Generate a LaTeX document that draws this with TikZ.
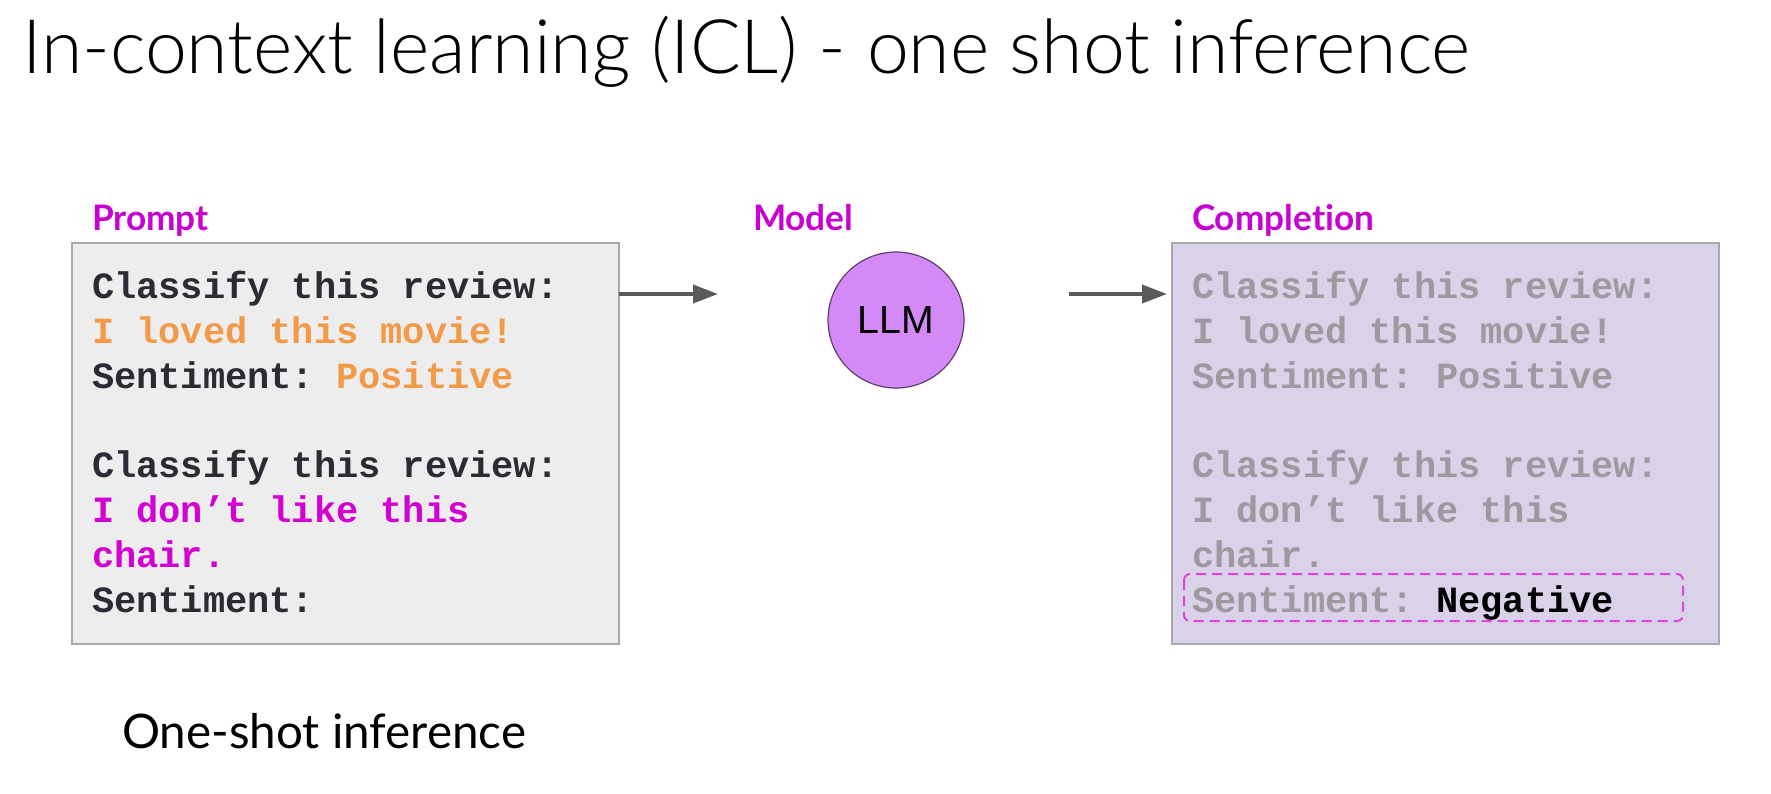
\documentclass[tikz,border=0pt]{standalone}
\usepackage{fontspec}
\setmainfont{Lato}[Ligatures={TeX,NoCommon}]
\IfFontExistsTF{Lato Light}{\newfontfamily\titlefont{Lato Light}[Ligatures={TeX,NoCommon}]}{\newfontfamily\titlefont{Lato}[Ligatures={TeX,NoCommon}]}
\setsansfont{Liberation Sans}
\setmonofont{Liberation Mono}
\usetikzlibrary{arrows.meta}
\definecolor{labmag}{HTML}{C800D2}
\definecolor{txtdark}{HTML}{2A2B33}
\definecolor{txtorange}{HTML}{F29A48}
\definecolor{txtmag}{HTML}{D200D2}
\definecolor{txtgray}{HTML}{9C9A9E}
\definecolor{promptfill}{HTML}{EDEDED}
\definecolor{complfill}{HTML}{D9D2E9}
\definecolor{boxline}{HTML}{A8A8A8}
\definecolor{arrgray}{HTML}{5A5A5A}
\definecolor{llmfill}{HTML}{D38AF7}
\definecolor{llmline}{HTML}{5E3F70}
\definecolor{dashmag}{HTML}{DD44DD}
\begin{document}
\begin{tikzpicture}[x=0.5pt,y=-0.5pt,
  every node/.style={inner sep=0pt, outer sep=0pt},
  panel/.style={draw=boxline, line width=1pt, minimum width=273.5pt, minimum height=200.5pt, anchor=north west},
  lbl/.style={anchor=base west, text=labmag, font=\bfseries\fontsize{17.6}{21}\selectfont},
  mono/.style={anchor=base west, font=\ttfamily\bfseries\fontsize{18.5}{22}\selectfont},
  arr/.style={draw=arrgray, line width=1.8pt, -{Triangle[length=12.5pt,width=9pt]}}
]
\useasboundingbox (0,0) rectangle (1771,793);
\fill[white] (0,0) rectangle (1771,793);

\node[anchor=base west, font=\titlefont\fontsize{37.6}{45}\selectfont] (title) at (22,73) {In-context learning (ICL) - one shot inference};

\node[lbl] (lprompt) at (92,230) {Prompt};
\node[lbl] (lmodel) at (753,230) {Model};
\node[lbl] (lcompl) at (1192,230) {Completion};

\node[panel, fill=promptfill] (prompt) at (72,243) {};
\node[panel, fill=complfill] (compl) at (1172,243) {};

\node[circle, fill=llmfill, draw=llmline, line width=0.6pt, minimum size=68pt, font=\sffamily\fontsize{19.6}{23}\selectfont] (llm) at (896,320) {LLM};

% prompt text
\node[mono, text=txtdark] (p1) at (92,298) {Classify this review:};
\node[mono, text=txtorange] (p2) at (92,343) {I loved this movie!};
\node[mono, text=txtdark] (p3) at (92,388) {Sentiment: \textcolor{txtorange}{Positive}};
\node[mono, text=txtdark] (p4) at (92,477) {Classify this review:};
\node[mono, text=txtmag] (p5) at (92,522) {I don’t like this};
\node[mono, text=txtmag] (p6) at (92,567) {chair.};
\node[mono, text=txtdark] (p7) at (92,612) {Sentiment:};

% completion text
\node[mono, text=txtgray] (c1) at (1192,298) {Classify this review:};
\node[mono, text=txtgray] (c2) at (1192,343) {I loved this movie!};
\node[mono, text=txtgray] (c3) at (1192,388) {Sentiment: Positive};
\node[mono, text=txtgray] (c4) at (1192,477) {Classify this review:};
\node[mono, text=txtgray] (c5) at (1192,522) {I don’t like this};
\node[mono, text=txtgray] (c6) at (1192,567) {chair.};
\node[mono, text=txtgray] (c7) at (1192,612) {Sentiment: \textcolor{black}{Negative}};

\draw[dashmag, line width=1pt, dash pattern=on 5pt off 3pt, rounded corners=3pt] (1184,574) rectangle (1683,621);

% arrows
\coordinate (a1s) at (619,294);
\coordinate (a1e) at (718,294);
\coordinate (a2s) at (1069,294);
\draw[arr] (a1s) -- (a1e);
\draw[arr, shorten >=2.5pt] (a2s) -- (compl.west |- a2s);

\node[anchor=base west, font=\fontsize{23.8}{28}\selectfont] (oneshot) at (122,748) {One-shot inference};
\end{tikzpicture}
\end{document}
